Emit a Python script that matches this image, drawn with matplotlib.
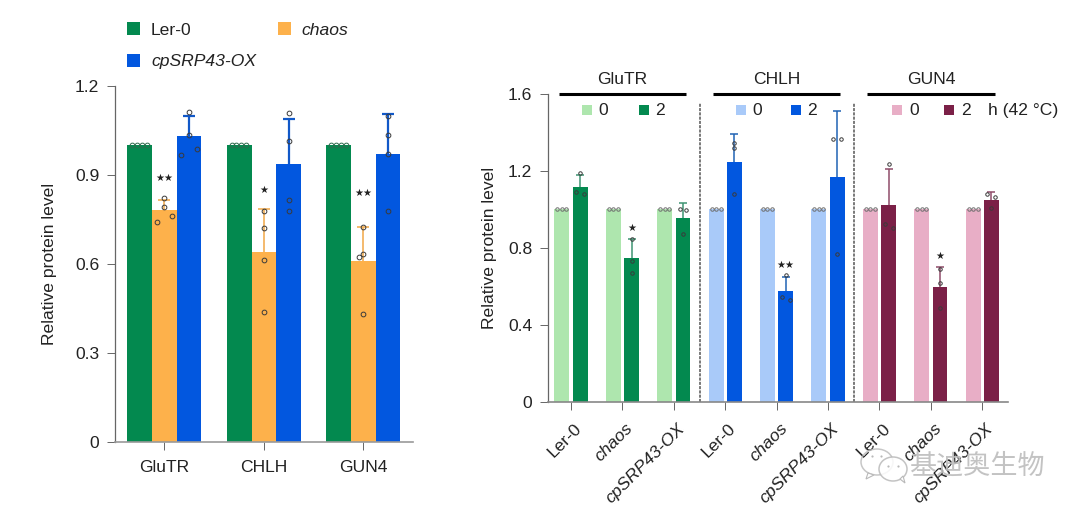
"""
Relative protein level of GluTR, CHLH and GUN4 in Ler-0, chaos and cpSRP43-OX.
Left: normal conditions. Right: 0 h and 2 h at 42 C.
"""
import matplotlib
matplotlib.use("Agg")
import matplotlib.pyplot as plt
from matplotlib.patches import Ellipse, Polygon
from matplotlib.transforms import ScaledTranslation

W, H = 1080, 514

GREEN = "#03894F"
ORANGE = "#FDB14B"
BLUE = "#0257DF"
LIGHT_GREEN = "#AEE6AE"
LIGHT_BLUE = "#A9CAF9"
PINK = "#E8AEC6"
MAROON = "#7B2047"
TEXT = "#222222"

plt.rcParams.update({
    "font.family": ["Liberation Sans", "DejaVu Sans"],
    "font.size": 12.6,
    "text.color": TEXT,
    "axes.labelcolor": TEXT,
    "xtick.labelcolor": TEXT,
    "ytick.labelcolor": TEXT,
    "axes.spines.top": False,
    "axes.spines.right": False,
})

# left panel data
proteins = ["GluTR", "CHLH", "GUN4"]
lines = ["Ler-0", "chaos", "cpSRP43-OX"]
ler_mean = [1.0, 1.0, 1.0]
chaos_mean = [0.78, 0.64, 0.61]
oe_mean = [1.03, 0.935, 0.97]
chaos_cap = [0.815, 0.785, 0.725]
oe_cap = [1.097, 1.089, 1.105]
chaos_pts = [[0.822, 0.79, 0.762, 0.74],
             [0.778, 0.72, 0.611, 0.436],
             [0.725, 0.634, 0.623, 0.43]]
oe_pts = [[1.11, 1.035, 0.985, 0.967],
          [1.107, 1.012, 0.816, 0.778],
          [1.097, 1.035, 0.971, 0.778]]
ler_pts = [1.0, 1.0, 1.0, 1.0]
left_stars = ["★★", "★", "★★"]
left_star_y = [0.889, 0.848, 0.839]

# right panel data, one row per protein, columns Ler-0 / chaos / cpSRP43-OX
h0_mean = [[1.0, 1.0, 1.0], [1.0, 1.0, 1.0], [1.0, 1.0, 1.0]]
h2_mean = [[1.116, 0.749, 0.957],
           [1.248, 0.577, 1.168],
           [1.023, 0.598, 1.049]]
h2_cap = [[1.179, 0.844, 1.032],
          [1.39, 0.647, 1.512],
          [1.21, 0.702, 1.089]]
h2_pts = [[[1.188, 1.089, 1.082], [0.844, 0.73, 0.668], [1.002, 0.995, 0.87]],
          [[1.347, 1.319, 1.082], [0.659, 0.546, 0.529], [1.368, 1.368, 0.766]],
          [[1.236, 0.926, 0.905], [0.692, 0.616, 0.486], [1.078, 1.064, 1.005]]]
h0_pts = [1.0, 1.0, 1.0]
right_stars = ["★", "★★", "★"]
right_star_y = [0.902, 0.711, 0.759]

# sideways jitter of the dots, in bar widths
left_jit = [[[0, 0, 0.32, -0.32], [0, 0, 0, 0], [0, 0, -0.16, 0]],
            [[0, 0, 0.32, -0.32], [0, 0, 0, 0], [0, 0, 0, 0]]]
right_jit = [[[0, -0.27, 0.27], [0, 0, 0], [-0.2, 0.2, 0]],
             [[0, 0, 0], [0, -0.27, 0.27], [-0.27, 0.27, 0]],
             [[0, -0.27, 0.27], [0, 0, 0], [-0.27, 0.27, 0]]]


def axes_px(x0, x1, y_top, y_bottom):
    return fig.add_axes([x0 / W, 1 - y_bottom / H, (x1 - x0) / W, (y_bottom - y_top) / H])


def style_axes(ax, bottom_color):
    ax.spines["left"].set_color("#666666")
    ax.spines["left"].set_linewidth(0.9)
    ax.spines["bottom"].set_color(bottom_color)
    ax.spines["bottom"].set_linewidth(1.2)
    ax.tick_params(axis="both", length=6, width=0.7, color="#666666")


def dots(ax, xs, ys, size, edge="#3A3A3A"):
    ax.plot(xs, ys, "o", ms=size, mfc="none", mec=edge, mew=0.7, clip_on=False, zorder=5)


def upper_err(ax, xs, means, caps, color, lw, cap_ms):
    # only the upper whisker is drawn, no cap on the bar top
    ax.vlines(xs, means, caps, color=color, lw=lw, zorder=4)
    ax.plot(xs, caps, "_", color=color, ms=cap_ms, mew=lw, clip_on=False, zorder=4)


fig = plt.figure(figsize=(W / 100, H / 100), dpi=100, facecolor="white")

# left panel
ax = axes_px(114.7, 413, 85.7, 441.7)
style_axes(ax, "#999999")
bw = 0.248
xs = list(range(3))
b1 = ax.bar([x - bw for x in xs], ler_mean, bw, color=GREEN, label=lines[0])
b2 = ax.bar(xs, chaos_mean, bw, color=ORANGE, label=lines[1])
b3 = ax.bar([x + bw for x in xs], oe_mean, bw, color=BLUE, label=lines[2])
upper_err(ax, xs, chaos_mean, chaos_cap, "#F2AE55", 1.2, 8.6)
upper_err(ax, [x + bw for x in xs], oe_mean, oe_cap, "#1158C8", 1.6, 8.6)
for i in xs:
    dots(ax, [i - bw + d * bw for d in (-0.31, -0.11, 0.09, 0.29)], ler_pts, 3.4, "#2C6B4C")
    dots(ax, [i + j * bw for j in left_jit[0][i]], chaos_pts[i], 3.4)
    dots(ax, [i + bw + j * bw for j in left_jit[1][i]], oe_pts[i], 3.4)
    ax.text(i, left_star_y[i], left_stars[i], fontsize=7.2, ha="center", va="center",
            family="DejaVu Sans")
ax.set_xlim(-0.5, 2.5)
ax.set_ylim(0, 1.2)
ax.set_xticks(xs, proteins)
ax.set_yticks([0, 0.3, 0.6, 0.9, 1.2], ["0", "0.3", "0.6", "0.9", "1.2"])
ax.tick_params(axis="x", pad=7.5)
ax.tick_params(axis="y", pad=5)
ax.set_ylabel("Relative protein level", labelpad=13)
leg = ax.legend(handles=[b1, b3, b2], ncols=2, loc="upper left", frameon=False,
                bbox_to_anchor=(127 / W, 1 - 22 / H), bbox_transform=fig.transFigure,
                borderpad=0, borderaxespad=0, handlelength=0.75, handleheight=0.8,
                handletextpad=0.62, labelspacing=0.9, columnspacing=1.25)
for t in leg.get_texts():
    if t.get_text() != "Ler-0":
        t.set_style("italic")

# right panel
ax2 = axes_px(547.7, 1008, 94, 401.7)
style_axes(ax2, "#888888")
light = [LIGHT_GREEN, LIGHT_BLUE, PINK]
dark = [GREEN, BLUE, MAROON]
err_col = ["#3F9473", "#2163B4", "#8F4C6A"]
bw2 = 0.29
off = 0.178
for g in range(3):
    pos = [g * 3 + k for k in range(3)]
    ax2.bar([p - off for p in pos], h0_mean[g], bw2, color=light[g])
    ax2.bar([p + off for p in pos], h2_mean[g], bw2, color=dark[g])
    upper_err(ax2, [p + off for p in pos], h2_mean[g], h2_cap[g], err_col[g], 1.1, 5.8)
    for k, p in enumerate(pos):
        dots(ax2, [p - off + d * bw2 for d in (-0.3, 0, 0.3)], h0_pts, 2.5, "#6F6F6F")
        dots(ax2, [p + off + j * bw2 for j in right_jit[g][k]], h2_pts[g][k], 2.5)
    ax2.text(pos[1] + off, right_star_y[g], right_stars[g], fontsize=7.2, ha="center", va="center",
             family="DejaVu Sans")

ax2.set_xlim(-0.453, 8.5)
ax2.set_ylim(0, 1.6)
ax2.set_yticks([0, 0.4, 0.8, 1.2, 1.6], ["0", "0.4", "0.8", "1.2", "1.6"])
ax2.tick_params(axis="y", pad=5)
ax2.set_xticks(range(9), lines * 3)
ax2.tick_params(axis="x", pad=7)
shift = ScaledTranslation(3 / 100, -1 / 100, fig.dpi_scale_trans)
for k, t in enumerate(ax2.get_xticklabels()):
    t.set_rotation(45)
    t.set_ha("right")
    t.set_rotation_mode("anchor")
    t.set_transform(t.get_transform() + shift)
    if k % 3:
        t.set_style("italic")
ax2.set_ylabel("Relative protein level", labelpad=8)

# headers, key and dashed separators above the bars
key_off = [(-0.69, -0.37, 0.42, 0.73), (-0.69, -0.37, 0.37, 0.69), (-0.65, -0.32, 0.36, 0.69)]
for g, name in enumerate(proteins):
    c = g * 3 + 1
    ax2.plot([c - 1.24, c + 1.24], [1.6, 1.6], color="black", lw=2.2, clip_on=False,
             solid_capstyle="butt")
    ax2.text(c, 1.675, name, ha="center", va="center")
    o = key_off[g]
    ax2.plot(c + o[0], 1.515, "s", color=light[g], ms=6.8, mew=0)
    ax2.text(c + o[1], 1.515, "0", ha="center", va="center")
    ax2.plot(c + o[2], 1.515, "s", color=dark[g], ms=6.8, mew=0)
    ax2.text(c + o[3], 1.515, "2", ha="center", va="center")
ax2.text(8.113, 1.515, "h (42 °C)", ha="left", va="center", clip_on=False)
for x in (2.5, 5.5):
    ax2.plot([x, x], [0, 1.555], color="#555555", lw=1.1, ls=(0, (2, 0.8)))

# watermark
wm = "#B9B9B9"
overlay = fig.add_axes([0, 0, 1, 1], facecolor="none")
overlay.set_xlim(0, W)
overlay.set_ylim(H, 0)
overlay.axis("off")
overlay.add_patch(Ellipse((877, 462), 32, 26, fc="none", ec=wm, lw=1.1, alpha=0.8))
overlay.add_patch(Polygon([(868, 473), (866, 479), (874, 475)], fc="white", ec=wm, lw=0.8))
overlay.add_patch(Ellipse((893, 469), 28, 24, fc="white", ec=wm, lw=1.1, alpha=0.85))
overlay.add_patch(Polygon([(900, 479), (905, 483), (903, 476)], fc="white", ec=wm, lw=0.8))
for px, py in [(872, 456), (881, 456), (888, 466), (898, 466)]:
    overlay.plot(px, py, "o", color=wm, ms=1.6, mew=0)
overlay.text(977, 466, "基迪奥生物", family=["Noto Sans CJK SC", "DejaVu Sans"], fontsize=19.5,
             color="#BDBDBD", alpha=0.9, ha="center", va="center")

plt.savefig("out.png", dpi=100)
plt.close()
